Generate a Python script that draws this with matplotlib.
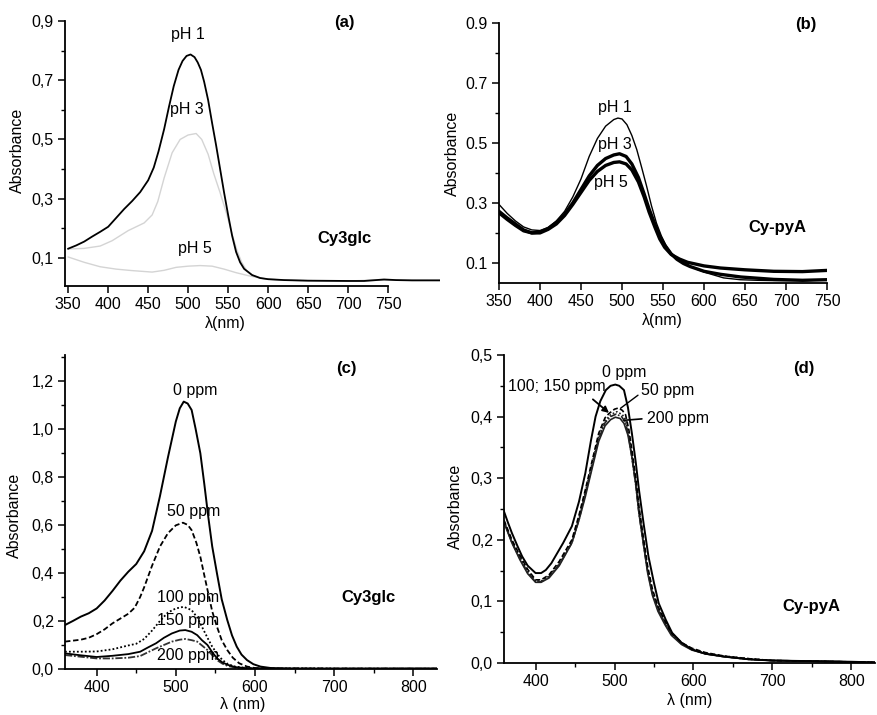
import matplotlib
matplotlib.use("Agg")
import matplotlib.pyplot as plt
from matplotlib.ticker import MultipleLocator, FixedLocator, FuncFormatter

plt.rcParams['font.family'] = ['Liberation Sans', 'DejaVu Sans']
plt.rcParams['font.size'] = 11

# ---------------- (a) Cy3glc at different pH ----------------
a_ph1_nm = [350, 360, 370, 380, 390, 400, 410, 420, 430, 440, 450, 457, 463, 470, 476, 482,
            488, 493, 498, 503, 508, 512, 516, 520, 525, 530, 535, 540, 545, 550, 555, 560,
            565, 570, 580, 590, 600, 620, 650, 700, 720, 735, 745, 760, 780, 815]
a_ph1 = [0.131, 0.142, 0.155, 0.172, 0.188, 0.205, 0.235, 0.265, 0.292, 0.322, 0.362, 0.405,
         0.46, 0.535, 0.61, 0.68, 0.735, 0.765, 0.782, 0.787, 0.778, 0.76, 0.735, 0.695,
         0.633, 0.555, 0.48, 0.40, 0.32, 0.245, 0.175, 0.12, 0.085, 0.063, 0.042, 0.032,
         0.028, 0.025, 0.023, 0.022, 0.022, 0.025, 0.027, 0.025, 0.024, 0.024]
a_ph3_nm = [350, 370, 390, 405, 415, 425, 435, 445, 455, 462, 470, 480, 490, 500, 510, 517,
            525, 532, 540, 548, 555, 561, 567, 573, 580, 590, 600, 620, 650, 700, 745, 780, 815]
a_ph3 = [0.13, 0.132, 0.14, 0.158, 0.175, 0.192, 0.205, 0.218, 0.245, 0.29, 0.37, 0.455, 0.5,
         0.515, 0.52, 0.5, 0.45, 0.385, 0.32, 0.25, 0.18, 0.126, 0.085, 0.058, 0.042, 0.032,
         0.028, 0.025, 0.023, 0.022, 0.026, 0.024, 0.024]
a_ph5_nm = [350, 370, 390, 410, 430, 455, 470, 485, 500, 515, 530, 545, 560, 575, 590, 600,
            620, 650, 700, 750, 815]
a_ph5 = [0.103, 0.085, 0.07, 0.062, 0.057, 0.052, 0.058, 0.068, 0.072, 0.074, 0.072, 0.062,
         0.05, 0.04, 0.032, 0.028, 0.025, 0.023, 0.022, 0.025, 0.024]

# ---------------- (b) Cy-pyA at different pH ----------------
b_ph1_nm = [350, 360, 370, 380, 390, 400, 410, 420, 430, 440, 450, 460, 470, 480, 490, 495,
            500, 506, 512, 518, 524, 530, 536, 542, 548, 554, 560, 567, 575, 583, 593, 603,
            614, 624, 644, 665, 685, 725, 750]
b_ph1 = [0.295, 0.265, 0.24, 0.22, 0.21, 0.208, 0.218, 0.24, 0.272, 0.32, 0.38, 0.455, 0.515,
         0.556, 0.578, 0.583, 0.58, 0.561, 0.525, 0.478, 0.418, 0.356, 0.29, 0.233, 0.19,
         0.156, 0.132, 0.117, 0.1, 0.089, 0.077, 0.067, 0.058, 0.05, 0.044, 0.042, 0.041,
         0.041, 0.044]
b_ph3_nm = [350, 360, 370, 380, 390, 400, 410, 420, 430, 440, 450, 460, 470, 480, 490, 497,
            505, 512, 520, 527, 533, 540, 546, 552, 560, 567, 575, 583, 600, 620, 645, 685,
            720, 750]
b_ph3 = [0.272, 0.25, 0.23, 0.21, 0.2, 0.203, 0.215, 0.235, 0.262, 0.3, 0.345, 0.39, 0.425,
         0.448, 0.46, 0.464, 0.455, 0.43, 0.385, 0.33, 0.28, 0.23, 0.19, 0.16, 0.13, 0.112,
         0.098, 0.088, 0.072, 0.062, 0.053, 0.045, 0.042, 0.044]
b_ph5_nm = [350, 360, 370, 380, 390, 400, 410, 420, 430, 440, 450, 460, 470, 480, 490, 497,
            505, 512, 520, 527, 533, 540, 546, 552, 560, 570, 580, 600, 620, 650, 685, 720, 750]
b_ph5 = [0.267, 0.245, 0.225, 0.207, 0.2, 0.2, 0.212, 0.23, 0.258, 0.295, 0.335, 0.375, 0.405,
         0.425, 0.435, 0.437, 0.43, 0.41, 0.37, 0.32, 0.27, 0.22, 0.18, 0.152, 0.128, 0.113,
         0.102, 0.09, 0.083, 0.077, 0.072, 0.071, 0.075]

# ---------------- (c) Cy3glc with bisulfite ----------------
c_0_nm = [360, 370, 380, 390, 400, 410, 420, 430, 440, 450, 460, 470, 480, 490, 500, 505, 510,
          515, 520, 525, 531, 536, 541, 546, 552, 558, 565, 571, 577, 583, 590, 598, 607, 620,
          640, 700, 830]
c_0 = [0.183, 0.2, 0.218, 0.232, 0.252, 0.285, 0.325, 0.368, 0.405, 0.437, 0.49, 0.575, 0.72,
       0.88, 1.03, 1.085, 1.113, 1.105, 1.078, 1.0, 0.898, 0.77, 0.634, 0.51, 0.398, 0.29,
       0.204, 0.14, 0.093, 0.06, 0.037, 0.02, 0.01, 0.004, 0.002, 0.001, 0.002]
c_50_nm = [360, 370, 380, 390, 400, 410, 420, 430, 440, 448, 455, 460, 470, 480, 490, 500, 509,
           515, 520, 526, 531, 536, 541, 546, 552, 558, 565, 572, 580, 590, 600, 620, 830]
c_50 = [0.114, 0.118, 0.122, 0.13, 0.145, 0.165, 0.19, 0.21, 0.23, 0.255, 0.3, 0.34, 0.43,
        0.51, 0.565, 0.598, 0.609, 0.6, 0.578, 0.525, 0.467, 0.39, 0.315, 0.24, 0.176, 0.12,
        0.079, 0.047, 0.024, 0.01, 0.004, 0.002, 0.001]
c_100_nm = [360, 380, 400, 420, 440, 450, 460, 470, 480, 490, 500, 510, 520, 527, 533, 540,
            546, 553, 559, 566, 575, 590, 620, 830]
c_100 = [0.072, 0.072, 0.073, 0.082, 0.098, 0.105, 0.125, 0.16, 0.2, 0.235, 0.252, 0.259,
         0.245, 0.215, 0.176, 0.13, 0.093, 0.06, 0.037, 0.02, 0.01, 0.004, 0.002, 0.001]
c_150_nm = [360, 380, 400, 420, 440, 455, 465, 475, 485, 495, 505, 512, 520, 527, 533, 540,
            546, 552, 559, 566, 575, 590, 620, 830]
c_150 = [0.065, 0.057, 0.05, 0.055, 0.062, 0.072, 0.09, 0.107, 0.13, 0.148, 0.16, 0.162, 0.155,
         0.141, 0.12, 0.1, 0.07, 0.045, 0.027, 0.017, 0.008, 0.003, 0.001, 0.001]
c_200_nm = [360, 380, 400, 420, 440, 455, 465, 475, 485, 495, 505, 512, 520, 527, 533, 540,
            546, 552, 559, 566, 575, 590, 830]
c_200 = [0.058, 0.051, 0.044, 0.044, 0.047, 0.054, 0.07, 0.086, 0.1, 0.114, 0.122, 0.125, 0.12,
         0.114, 0.098, 0.079, 0.058, 0.037, 0.022, 0.012, 0.006, 0.002, 0.001]

# ---------------- (d) Cy-pyA with bisulfite ----------------
d_0_nm = [360, 365, 370, 377, 383, 390, 400, 407, 413, 420, 425, 435, 446, 455, 463, 470, 476,
          482, 489, 495, 501, 506, 512, 517, 522, 527, 531, 537, 543, 550, 556, 565, 573, 585,
          598, 615, 636, 670, 700, 750, 800, 830]
d_0 = [0.246, 0.228, 0.211, 0.19, 0.173, 0.158, 0.146, 0.146, 0.151, 0.162, 0.173, 0.195,
       0.222, 0.262, 0.308, 0.36, 0.4, 0.425, 0.443, 0.45, 0.452, 0.45, 0.443, 0.415, 0.373,
       0.325, 0.281, 0.225, 0.173, 0.13, 0.097, 0.07, 0.049, 0.033, 0.022, 0.015, 0.011,
       0.006, 0.004, 0.003, 0.002, 0.001]
d_50_nm = [360, 370, 380, 390, 400, 407, 417, 430, 446, 455, 463, 472, 480, 488, 493, 500, 505,
           510, 514, 518, 522, 527, 531, 537, 542, 548, 555, 564, 572, 585, 598, 615, 640, 670,
           700, 750, 830]
d_50 = [0.232, 0.2, 0.175, 0.152, 0.135, 0.135, 0.143, 0.165, 0.2, 0.24, 0.281, 0.33, 0.373,
        0.398, 0.405, 0.412, 0.414, 0.41, 0.403, 0.38, 0.346, 0.3, 0.254, 0.2, 0.157, 0.12,
        0.092, 0.068, 0.049, 0.033, 0.024, 0.017, 0.011, 0.007, 0.004, 0.003, 0.001]
d_100_nm = [360, 370, 380, 390, 400, 407, 417, 430, 446, 455, 463, 472, 480, 488, 495, 503,
            510, 514, 518, 522, 527, 531, 537, 542, 548, 555, 564, 572, 585, 598, 615, 640,
            670, 700, 750, 830]
d_100 = [0.23, 0.197, 0.172, 0.149, 0.133, 0.133, 0.141, 0.162, 0.197, 0.236, 0.277, 0.326,
         0.368, 0.393, 0.403, 0.408, 0.403, 0.395, 0.372, 0.338, 0.292, 0.247, 0.194, 0.152,
         0.116, 0.089, 0.066, 0.048, 0.032, 0.023, 0.016, 0.011, 0.007, 0.004, 0.003, 0.001]
d_150_nm = [360, 370, 380, 390, 400, 407, 417, 430, 446, 455, 463, 472, 480, 488, 495, 502,
            509, 514, 518, 522, 527, 531, 537, 542, 548, 555, 564, 572, 585, 598, 615, 640,
            670, 700, 750, 830]
d_150 = [0.229, 0.196, 0.17, 0.147, 0.132, 0.132, 0.14, 0.16, 0.195, 0.233, 0.274, 0.322,
         0.364, 0.39, 0.4, 0.404, 0.4, 0.39, 0.367, 0.334, 0.288, 0.243, 0.19, 0.149, 0.113,
         0.087, 0.064, 0.047, 0.031, 0.022, 0.015, 0.01, 0.006, 0.004, 0.003, 0.001]
d_200_nm = [360, 370, 380, 390, 400, 407, 417, 430, 446, 455, 463, 472, 480, 488, 495, 501,
            507, 512, 517, 522, 527, 531, 537, 542, 548, 555, 564, 572, 585, 598, 615, 640,
            670, 700, 750, 830]
d_200 = [0.228, 0.195, 0.168, 0.145, 0.131, 0.131, 0.138, 0.158, 0.195, 0.232, 0.27, 0.318,
         0.36, 0.385, 0.395, 0.399, 0.397, 0.389, 0.37, 0.335, 0.29, 0.243, 0.19, 0.146, 0.11,
         0.084, 0.062, 0.045, 0.03, 0.021, 0.015, 0.01, 0.006, 0.004, 0.003, 0.001]

W, H = 877, 715
fig = plt.figure(figsize=(W / 100, H / 100), dpi=100)


def make_axes(left, right, top, bottom):
    return fig.add_axes([left / W, (H - bottom) / H, (right - left) / W, (bottom - top) / H])


def style(ax):
    for s in ('top', 'right'):
        ax.spines[s].set_visible(False)
    for s in ('left', 'bottom'):
        ax.spines[s].set_linewidth(1.3)
    ax.tick_params(which='major', direction='out', length=5, width=1.1, labelsize=11.5, pad=3)
    ax.tick_params(which='minor', direction='out', length=3, width=1.0)


comma = FuncFormatter(lambda v, p: f"{v:.1f}".replace('.', ','))
dot = FuncFormatter(lambda v, p: f"{v:.1f}")
BOLD = 12

# ---- (a)
ax = make_axes(65, 440, 21, 286)
style(ax)
ax.plot(a_ph5_nm, a_ph5, color='#d4d4d4', lw=1.0)
ax.plot(a_ph3_nm, a_ph3, color='#d4d4d4', lw=1.0)
ax.plot(a_ph1_nm, a_ph1, color='black', lw=1.3)
ax.set_xlim(346, 815)
ax.set_ylim(0.005, 0.9)
ax.spines['bottom'].set_bounds(346, 750)
ax.xaxis.set_major_locator(FixedLocator([350, 400, 450, 500, 550, 600, 650, 700, 750]))
ax.yaxis.set_major_locator(FixedLocator([0.1, 0.3, 0.5, 0.7, 0.9]))
ax.yaxis.set_minor_locator(FixedLocator([0.2, 0.4, 0.6, 0.8]))
ax.yaxis.set_major_formatter(comma)
ax.set_ylabel('Absorbance', fontsize=11.5)
ax.yaxis.set_label_coords(-0.107, 0.51)
ax.set_xlabel('λ(nm)', fontsize=11.5)
ax.xaxis.set_label_coords(0.427, -0.115)
ax.text(500, 0.853, 'pH 1', ha='center', va='center', fontsize=11.5)
ax.text(498, 0.60, 'pH 3', ha='center', va='center', fontsize=11.5)
ax.text(509, 0.13, 'pH 5', ha='center', va='center', fontsize=11.5)
ax.text(696, 0.895, '(a)', ha='center', va='center', fontsize=BOLD, fontweight='bold')
ax.text(696, 0.165, 'Cy3glc', ha='center', va='center', fontsize=BOLD, fontweight='bold')

# ---- (b)
ax = make_axes(499, 827, 23, 283)
style(ax)
ax.plot(b_ph3_nm, b_ph3, color='black', lw=2.4)
ax.plot(b_ph5_nm, b_ph5, color='black', lw=2.4)
ax.plot(b_ph1_nm, b_ph1, color='black', lw=1.0)
ax.set_xlim(350, 750)
ax.set_ylim(0.033, 0.9)
ax.xaxis.set_major_locator(MultipleLocator(50))
ax.yaxis.set_major_locator(FixedLocator([0.1, 0.3, 0.5, 0.7, 0.9]))
ax.yaxis.set_minor_locator(FixedLocator([0.2, 0.4, 0.6, 0.8]))
ax.yaxis.set_major_formatter(dot)
ax.set_ylabel('Absorbance', fontsize=11.5)
ax.yaxis.set_label_coords(-0.119, 0.5)
ax.set_xlabel('λ(nm)', fontsize=11.5)
ax.xaxis.set_label_coords(0.497, -0.115)
ax.text(491, 0.617, 'pH 1', ha='center', va='center', fontsize=11.5)
ax.text(491, 0.494, 'pH 3', ha='center', va='center', fontsize=11.5)
ax.text(487, 0.367, 'pH 5', ha='center', va='center', fontsize=11.5)
ax.text(724, 0.895, '(b)', ha='center', va='center', fontsize=BOLD, fontweight='bold')
ax.text(689, 0.217, 'Cy-pyA', ha='center', va='center', fontsize=BOLD, fontweight='bold')

# ---- (c)
ax = make_axes(65, 437, 355, 669)
style(ax)
ax.plot(c_200_nm, c_200, color='#333333', lw=1.3, ls=(0, (4, 1, 1, 1)))
ax.plot(c_150_nm, c_150, color='black', lw=1.3)
ax.plot(c_100_nm, c_100, color='black', lw=1.3, ls=(0, (1, 1.2)))
ax.plot(c_50_nm, c_50, color='black', lw=1.3, ls=(0, (3, 1.5)))
ax.plot(c_0_nm, c_0, color='black', lw=1.4)
ax.set_xlim(360, 830)
ax.set_ylim(0, 1.307)
ax.xaxis.set_major_locator(MultipleLocator(100))
ax.xaxis.set_minor_locator(MultipleLocator(50))
ax.yaxis.set_major_locator(MultipleLocator(0.2))
ax.yaxis.set_minor_locator(MultipleLocator(0.1))
ax.yaxis.set_major_formatter(comma)
ax.set_ylabel('Absorbance', fontsize=11.5)
ax.yaxis.set_label_coords(-0.116, 0.49)
ax.set_xlabel('λ (nm)', fontsize=11.5)
ax.xaxis.set_label_coords(0.478, -0.09)
ax.text(524, 1.161, '0 ppm', ha='center', va='center', fontsize=11.5)
ax.text(522, 0.655, '50 ppm', ha='center', va='center', fontsize=11.5)
ax.text(516, 0.297, '100 ppm', ha='center', va='center', fontsize=11.5)
ax.text(515, 0.200, '150 ppm', ha='center', va='center', fontsize=11.5)
ax.text(515, 0.058, '200 ppm', ha='center', va='center', fontsize=11.5)
ax.text(715, 1.251, '(c)', ha='center', va='center', fontsize=BOLD, fontweight='bold')
ax.text(744, 0.297, 'Cy3glc', ha='center', va='center', fontsize=BOLD, fontweight='bold')

# ---- (d)
ax = make_axes(504, 875, 355, 663)
style(ax)
ax.plot(d_200_nm, d_200, color='#222222', lw=1.2)
ax.plot(d_150_nm, d_150, color='#222222', lw=1.2, ls=(0, (4, 1, 1, 1)))
ax.plot(d_100_nm, d_100, color='#222222', lw=1.2, ls=(0, (1, 1.2)))
ax.plot(d_50_nm, d_50, color='black', lw=1.2, ls=(0, (3, 1.5)))
ax.plot(d_0_nm, d_0, color='black', lw=1.4)
ax.set_xlim(360, 830)
ax.set_ylim(0, 0.5)
ax.xaxis.set_major_locator(MultipleLocator(100))
ax.xaxis.set_minor_locator(MultipleLocator(50))
ax.yaxis.set_major_locator(MultipleLocator(0.1))
ax.yaxis.set_minor_locator(MultipleLocator(0.05))
ax.yaxis.set_major_formatter(comma)
ax.set_ylabel('Absorbance', fontsize=11.5)
ax.yaxis.set_label_coords(-0.11, 0.51)
ax.set_xlabel('λ (nm)', fontsize=11.5)
ax.xaxis.set_label_coords(0.501, -0.097)
ax.text(512, 0.472, '0 ppm', ha='center', va='center', fontsize=11.5)
ax.annotate('50 ppm', xy=(507.6, 0.4135), xytext=(567, 0.443), ha='center', va='center',
            fontsize=11.5, arrowprops=dict(arrowstyle='-', lw=1.0, color='black',
                                            shrinkA=0, shrinkB=0, relpos=(0.0, 0.3)))
ax.annotate('200 ppm', xy=(512, 0.394), xytext=(581, 0.397), ha='center', va='center',
            fontsize=11.5, arrowprops=dict(arrowstyle='-', lw=1.2, color='black',
                                            shrinkA=2, shrinkB=0, relpos=(0.0, 0.5)))
ax.text(427, 0.449, '100; 150 ppm', ha='center', va='center', fontsize=11.5)
ax.annotate('', xy=(493, 0.406), xytext=(472.6, 0.428),
            arrowprops=dict(arrowstyle='-|>', lw=1.3, color='black', mutation_scale=9,
                            shrinkA=0, shrinkB=0))
ax.text(740, 0.478, '(d)', ha='center', va='center', fontsize=BOLD, fontweight='bold')
ax.text(750, 0.092, 'Cy-pyA', ha='center', va='center', fontsize=BOLD, fontweight='bold')

fig.savefig('out.png', dpi=100)
